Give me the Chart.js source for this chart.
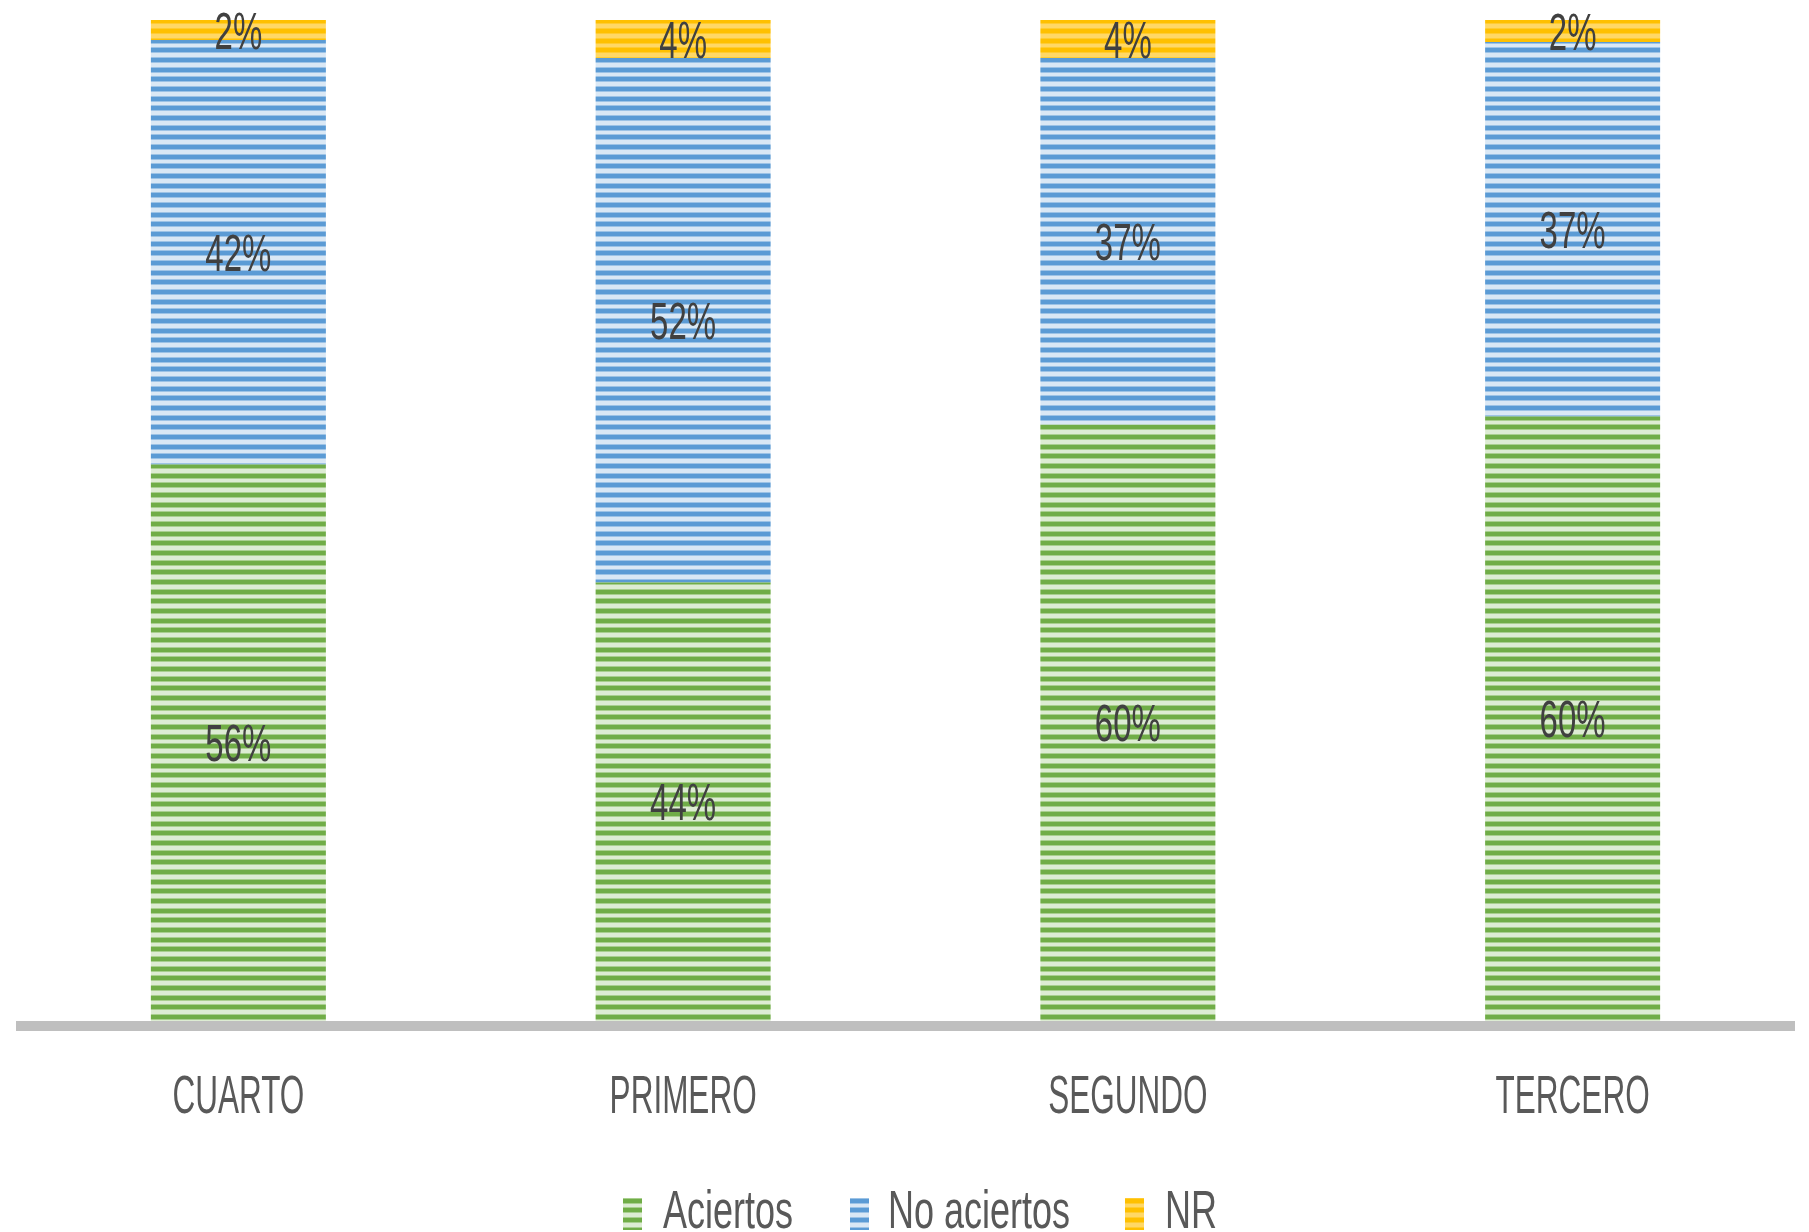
<!DOCTYPE html>
<html>
<head>
<meta charset="utf-8">
<script src="https://cdn.jsdelivr.net/npm/chart.js@4/dist/chart.umd.min.js"></script>
<style>
html,body{margin:0;padding:0;background:#fff;}
#wrap{width:1809px;height:1232px;position:relative;}
</style>
</head>
<body>
<div id="wrap"><canvas id="c" width="1809" height="1232"></canvas></div>
<script>
const categories = ['CUARTO', 'PRIMERO', 'SEGUNDO', 'TERCERO'];
const seriesNames = ['Aciertos', 'No aciertos', 'NR'];
const aciertos = [55.6, 43.8, 59.6, 60.4];
const noAciertos = [42.4, 52.4, 36.6, 37.4];
const nr = [2.0, 3.8, 3.8, 2.2];

const FONT = "'Liberation Sans', Arial, sans-serif";
const CAP = 0.716;

function stripePattern(dark, mid, light) {
  const c = document.createElement('canvas');
  c.width = 8; c.height = 29;
  const g = c.getContext('2d');
  const rows = [[dark,4],[mid,1],[light,4],[mid,1],[dark,4],[mid,1],[light,3],[mid,1],[dark,4],[mid,1],[light,4],[mid,1]];
  let y = 0;
  rows.forEach(([col,h]) => { g.fillStyle = col; g.fillRect(0, y, 8, h); y += h; });
  return g.createPattern(c, 'repeat');
}
const patGreen = stripePattern('#70AD47', '#A9CF8F', '#DDECD3');
const patBlue = stripePattern('#5B9BD5', '#9DC3E6', '#DAE8F5');
const patYellow = stripePattern('#FFC000', '#FFCC33', '#FFD866');

function drawScaledText(ctx, text, x, yCenter, size, capTarget, color, align) {
  const sy = capTarget / (CAP * size);
  ctx.save();
  ctx.font = size + 'px ' + FONT;
  ctx.fillStyle = color;
  ctx.textAlign = align || 'center';
  ctx.textBaseline = 'alphabetic';
  ctx.translate(x, yCenter);
  ctx.scale(1, sy);
  ctx.fillText(text, 0, CAP * size / 2);
  ctx.restore();
}

const decorPlugin = {
  id: 'decor',
  afterDatasetsDraw(chart) {
    const ctx = chart.ctx;
    const area = chart.chartArea;
    const xs = chart.scales.x;
    ctx.save();
    ctx.fillStyle = '#BFBFBF';
    ctx.fillRect(area.left, area.bottom, area.right - area.left, 10);
    ctx.restore();
    chart.data.datasets.forEach((ds, di) => {
      const meta = chart.getDatasetMeta(di);
      meta.data.forEach((bar, i) => {
        const v = ds.data[i];
        const yc = (bar.y + bar.base) / 2;
        drawScaledText(ctx, Math.round(v) + '%', bar.x, yc, 33, 37, '#404040', 'center');
      });
    });
    categories.forEach((c, i) => {
      drawScaledText(ctx, c, xs.getPixelForValue(i), 1094, 31.5, 38, '#595959', 'center');
    });
    const items = [
      {name: seriesNames[0], pat: patGreen, mx: 623, tx: 663},
      {name: seriesNames[1], pat: patBlue, mx: 850, tx: 888},
      {name: seriesNames[2], pat: patYellow, mx: 1125, tx: 1165}
    ];
    items.forEach(it => {
      ctx.save();
      ctx.fillStyle = it.pat;
      ctx.fillRect(it.mx, 1198, 19, 32);
      ctx.restore();
      drawScaledText(ctx, it.name, it.tx, 1209, 36, 38, '#595959', 'left');
    });
  }
};

new Chart(document.getElementById('c'), {
  type: 'bar',
  data: {
    labels: categories,
    datasets: [
      {label: seriesNames[0], data: aciertos, backgroundColor: patGreen, borderWidth: 0},
      {label: seriesNames[1], data: noAciertos, backgroundColor: patBlue, borderWidth: 0},
      {label: seriesNames[2], data: nr, backgroundColor: patYellow, borderWidth: 0}
    ]
  },
  options: {
    responsive: false,
    animation: false,
    devicePixelRatio: 1,
    layout: {padding: {left: 16, right: 14, top: 20, bottom: 211}},
    plugins: {legend: {display: false}, tooltip: {enabled: false}},
    datasets: {bar: {categoryPercentage: 1, barPercentage: 0.3935}},
    scales: {
      x: {stacked: true, display: false, grid: {display: false}},
      y: {stacked: true, display: false, min: 0, max: 100, grid: {display: false}}
    }
  },
  plugins: [decorPlugin]
});
</script>
</body>
</html>
